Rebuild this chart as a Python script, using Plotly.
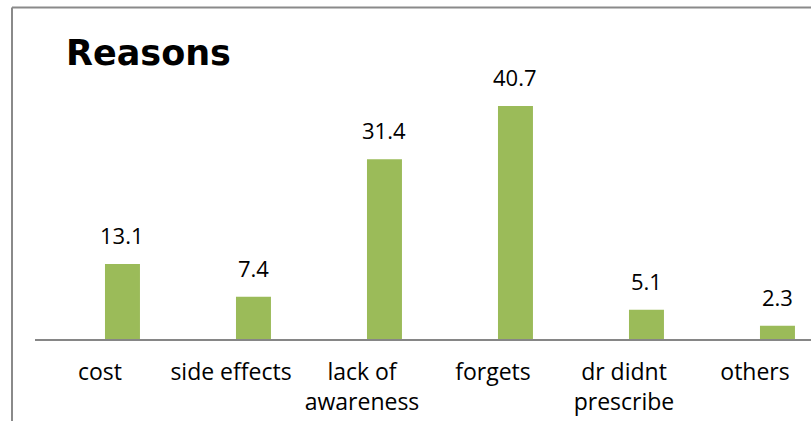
import plotly.graph_objects as go

categories = ["cost", "side effects", "lack of<br>awareness", "forgets", "dr didnt<br>prescribe", "others"]
values = [13.1, 7.4, 31.4, 40.7, 5.1, 2.3]
value_labels = ["13.1", "7.4", "31.4", "40.7", "5.1", "2.3"]
title_text = "Reasons"

FONT = "Open Sans"
GREEN = "#9BBB59"
xs = list(range(len(categories)))

BAND = 131.0          # px per category
BAR_W = 0.267         # bar width in category units
BAR_OFF = 0.038       # bar left edge offset from category centre

fig = go.Figure()
fig.add_trace(go.Bar(
    x=xs, y=values, width=BAR_W, offset=BAR_OFF,
    marker=dict(color=GREEN, line=dict(width=0)),
    hoverinfo="skip",
))

for x, v, t in zip(xs, values, value_labels):
    fig.add_annotation(x=x + BAR_OFF + BAR_W / 2, y=v, text=t, showarrow=False, xanchor="center",
                       yanchor="bottom", yshift=12,
                       font=dict(family=FONT, size=22, color="#000"))

W, H = 811, 421
L, R, T, B = 35, 0, 10, 82
pw = W - L - R
ph = H - T - B

fig.add_annotation(xref="paper", yref="paper", x=(64 - L) / pw, y=(H - B - 52.5) / ph,
                   xanchor="left", yanchor="middle", text="<b>" + title_text + "</b>",
                   showarrow=False, font=dict(family="DejaVu Sans", size=35, color="#000"))

# chart border (left and top)
bx = (12 - L) / pw
by_top = (H - B - 7.5) / ph
by_bot = (H - B - H - 5) / ph
fig.add_shape(type="line", xref="paper", yref="paper", x0=bx, x1=bx, y0=by_bot, y1=by_top,
              line=dict(color="#8a8a8a", width=2))
fig.add_shape(type="line", xref="paper", yref="paper", x0=bx, x1=1.01, y0=by_top, y1=by_top,
              line=dict(color="#8a8a8a", width=2))

fig.update_layout(
    width=W, height=H,
    margin=dict(l=L, r=R, t=T, b=B, pad=0),
    paper_bgcolor="white", plot_bgcolor="white",
    showlegend=False,
    xaxis=dict(range=[(L - 100) / BAND, (W - R - 100) / BAND],
               tickvals=xs, ticktext=categories, showgrid=False, zeroline=False,
               showline=True, linecolor="#868686", linewidth=1.5, ticks="",
               tickfont=dict(family=FONT, size=23, color="#000"),
               ticklabelstandoff=12, ticklabeloverflow="allow", fixedrange=True),
    yaxis=dict(range=[0, ph / 5.725], visible=False, showgrid=False, zeroline=False,
               fixedrange=True),
)

fig.write_html("out.html", config={"displayModeBar": False},
               post_script="document.body.style.margin='0';document.body.style.overflow='hidden';")
